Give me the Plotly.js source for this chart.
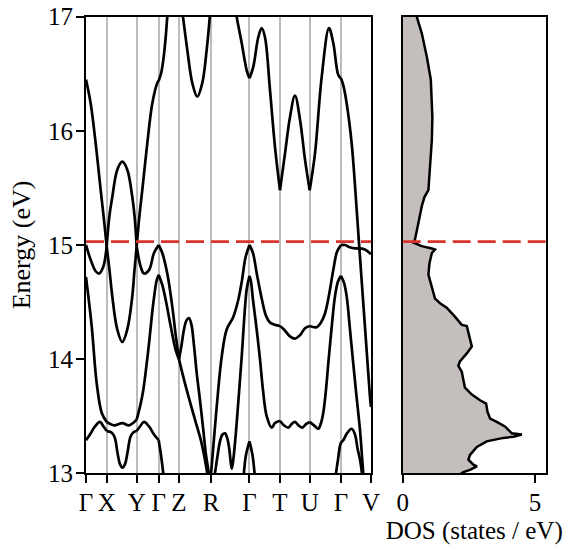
<!DOCTYPE html>
<html><head><meta charset="utf-8">
<script src="https://cdn.plot.ly/plotly-3.0.1.min.js"></script>
<style>html,body{margin:0;padding:0;background:#fff}#chart{width:574px;height:550px}</style>
</head><body><div id="chart"></div>
<script>
// High-symmetry path (k-distance along the path) and labels
const kLabels = ['Γ','X','Y','Γ','Z','R','Γ','T','U','Γ','V'];
const kPos = [0, 20.7, 50.7, 72.7, 93, 125, 163.5, 194, 223.7, 255, 285];
const fermiEnergy = 15.03;

// Bands (k-distance, energy in eV)
const bandTopLeftK = [0, 4.7, 9.7, 14.7, 18, 20.7, 23.5, 26.3, 31.3, 36.3, 41.3, 46.3, 48.5, 50.7, 53.5, 56.3, 61.3, 66.3, 71.3, 72.7, 75, 77.3, 79.7, 81.3, 82.5];
const bandTopLeftE = [16.45, 16.24, 15.89, 15.48, 15.22, 14.99, 15.26, 15.42, 15.66, 15.73, 15.66, 15.42, 15.26, 14.99, 15.26, 15.48, 15.89, 16.24, 16.42, 16.44, 16.50, 16.62, 16.82, 17.0, 17.12];

const bandTopZRK = [96.3, 101.3, 106.3, 111.3, 116.3, 120.7, 124.3];
const bandTopZRE = [17.05, 16.71, 16.42, 16.30, 16.42, 16.71, 17.05];

const bandTopRightK = [149.5, 150.7, 155.7, 160.7, 163.5, 167.3, 172.3, 175.7, 179, 184, 189, 194, 199, 204, 209, 214, 219, 223.7, 229, 235.7, 243, 247.3, 252.3, 255, 257.3, 260.7, 265.7, 270.7, 273, 276, 280, 284, 285];
const bandTopRightE = [17.08, 17.0, 16.77, 16.53, 16.46, 16.56, 16.82, 16.90, 16.82, 16.36, 15.86, 15.48, 15.80, 16.12, 16.31, 16.10, 15.75, 15.48, 15.80, 16.47, 16.90, 16.77, 16.49, 16.46, 16.40, 16.24, 15.89, 15.31, 15.02, 14.65, 14.16, 13.67, 13.58];

const bandFermiK = [0, 4.7, 9.7, 13, 17.3, 20.7, 23.5, 26.3, 31.3, 36.3, 41.3, 46.3, 48.5, 50.7, 54.7, 58, 63, 68, 72.7, 76.3, 81.3, 86.3, 90, 93, 96, 100.7, 109, 115.7, 120.7, 123];
const bandFermiE = [15.00, 14.87, 14.77, 14.75, 14.81, 14.99, 14.78, 14.55, 14.26, 14.15, 14.26, 14.55, 14.78, 14.99, 14.81, 14.75, 14.78, 14.93, 15.00, 14.93, 14.75, 14.46, 14.19, 14.00, 13.89, 13.73, 13.47, 13.26, 13.03, 12.86];

const bandMidLeftK = [0, 5.7, 10.7, 15.7, 20.7, 28, 36.3, 43, 50.7, 54.7, 57.3, 62.3, 67.3, 70.7, 72.7, 76.3, 79.7, 84.7, 89.7, 93, 95.5, 98, 100.5, 103, 105.5, 108, 110.7, 114, 117.3, 120, 122.3, 124];
const bandMidLeftE = [14.72, 14.29, 13.79, 13.53, 13.45, 13.42, 13.44, 13.42, 13.47, 13.61, 13.73, 14.08, 14.49, 14.69, 14.74, 14.65, 14.52, 14.29, 14.08, 14.00, 14.12, 14.26, 14.34, 14.36, 14.30, 14.12, 13.88, 13.64, 13.38, 13.16, 13.03, 12.90];

const bandMidRightK = [126, 128.5, 131, 134, 136.5, 139, 141.5, 143.5, 145.7, 147.3, 150.7, 155.7, 160.7, 163.5, 165, 167, 170.7, 174, 177, 180.7, 185.7, 189, 194, 198, 202.3, 205.5, 209, 212.5, 216.3, 220, 223.7, 228, 232.3, 235, 237.3, 240, 242.3, 245.5, 249, 252, 255, 258, 260.7, 264, 267.3, 270.7, 274, 277.3, 278.5];
const bandMidRightE = [12.90, 12.98, 13.12, 13.28, 13.34, 13.35, 13.30, 13.20, 13.04, 13.12, 13.44, 14.02, 14.61, 14.73, 14.68, 14.52, 14.26, 14.00, 13.73, 13.50, 13.40, 13.44, 13.46, 13.42, 13.40, 13.43, 13.45, 13.42, 13.40, 13.43, 13.45, 13.42, 13.39, 13.44, 13.53, 13.73, 13.96, 14.26, 14.55, 14.68, 14.73, 14.67, 14.55, 14.26, 13.96, 13.66, 13.38, 13.00, 12.90];

const bandRGammaK = [124.5, 125.7, 130.7, 135.7, 140.7, 147.3, 152.3, 156, 159.5, 163.5, 167, 171, 176, 180, 184, 189, 194, 198, 204, 209, 214, 219, 223.7, 230.7, 235, 239, 243, 247.3, 251, 255, 259, 264, 269, 274, 279, 285];
const bandRGammaE = [12.94, 13.06, 13.58, 14.02, 14.26, 14.37, 14.52, 14.69, 14.89, 15.00, 14.93, 14.74, 14.52, 14.38, 14.32, 14.30, 14.29, 14.26, 14.20, 14.18, 14.21, 14.27, 14.29, 14.28, 14.32, 14.40, 14.56, 14.78, 14.94, 15.00, 15.00, 14.98, 14.97, 14.97, 14.96, 14.92];

const bandLowLeftK = [0, 4, 9, 14, 17.5, 20.7, 25, 28.5, 31.5, 34, 36.5, 39, 41.5, 44.5, 47.5, 50.7, 54, 58, 63, 68, 72.7, 75, 77.3, 78.5];
const bandLowLeftE = [13.29, 13.34, 13.41, 13.45, 13.41, 13.37, 13.36, 13.32, 13.18, 13.08, 13.05, 13.08, 13.18, 13.32, 13.36, 13.37, 13.41, 13.45, 13.41, 13.34, 13.29, 13.16, 13.00, 12.90];

const bandGammaSmallK = [157.5, 160, 163.5, 166.5, 169];
const bandGammaSmallE = [12.96, 13.16, 13.28, 13.16, 12.96];

const bandLowRightK = [249.5, 252, 254, 255, 257.3, 261, 265.7, 269, 271.5, 274, 276, 277];
const bandLowRightE = [12.97, 13.12, 13.24, 13.27, 13.29, 13.35, 13.39, 13.34, 13.22, 13.12, 13.00, 12.92];

// Density of states (energy in eV, states / eV)
const dosEnergy = [17.1, 17.00, 16.855, 16.65, 16.45, 16.27, 16.12, 15.92, 15.69, 15.48, 15.42, 15.34, 15.19, 15.045, 15.02, 14.99, 14.97, 14.96, 14.93, 14.84, 14.74, 14.62, 14.53, 14.49, 14.45, 14.37, 14.30, 14.29, 14.18, 14.11, 14.05, 13.98, 13.94, 13.89, 13.75, 13.69, 13.64, 13.61, 13.54, 13.48, 13.45, 13.41, 13.35, 13.34, 13.32, 13.31, 13.28, 13.23, 13.16, 13.12, 13.075, 13.06, 13.03, 13.01, 12.98, 12.9];
const dosValue = [0.46, 0.53, 0.72, 0.91, 1.06, 1.10, 1.12, 1.10, 1.03, 0.97, 0.82, 0.72, 0.59, 0.46, 0.40, 0.72, 1.10, 1.22, 1.10, 1.01, 0.97, 1.10, 1.22, 1.41, 1.66, 1.98, 2.23, 2.42, 2.54, 2.61, 2.42, 2.16, 2.10, 2.23, 2.35, 2.61, 2.92, 3.15, 3.20, 3.30, 3.55, 3.86, 4.12, 4.50, 4.18, 3.80, 3.17, 2.80, 2.54, 2.48, 2.67, 2.80, 2.54, 2.29, 2.10, 2.0];

const bands = [
  [bandTopLeftK, bandTopLeftE], [bandTopZRK, bandTopZRE], [bandTopRightK, bandTopRightE],
  [bandFermiK, bandFermiE], [bandMidLeftK, bandMidLeftE], [bandMidRightK, bandMidRightE],
  [bandRGammaK, bandRGammaE], [bandLowLeftK, bandLowLeftE], [bandGammaSmallK, bandGammaSmallE],
  [bandLowRightK, bandLowRightE]
];

// split a band into pieces at the high-symmetry points (kinks)
function pieces(k, e) {
  const out = []; let cur = {x: [], y: []};
  for (let i = 0; i < k.length; i++) {
    cur.x.push(k[i]); cur.y.push(e[i]);
    if (i > 0 && i < k.length - 1 && kPos.includes(k[i])) {
      out.push(cur); cur = {x: [k[i]], y: [e[i]]};
    }
  }
  out.push(cur); return out;
}

const traces = [];
bands.forEach(([k, e]) => {
  pieces(k, e).forEach(p => traces.push({
    type: 'scatter', mode: 'lines', x: p.x, y: p.y, xaxis: 'x', yaxis: 'y',
    line: {color: '#000000', width: 2.7, shape: 'spline', smoothing: 1},
    hoverinfo: 'skip', showlegend: false
  }));
});

traces.push({
  type: 'scatter', mode: 'lines', x: dosValue, y: dosEnergy, xaxis: 'x2', yaxis: 'y2',
  fill: 'tozerox', fillcolor: '#c4bfbd', line: {color: '#000000', width: 2.5},
  hoverinfo: 'skip', showlegend: false
});

const ef = {color: '#d9342b', width: 2.7, dash: '18px,7px'};
traces.push({type: 'scatter', mode: 'lines', x: [kPos[0], kPos[kPos.length - 1]], y: [fermiEnergy, fermiEnergy], xaxis: 'x', yaxis: 'y', line: ef, hoverinfo: 'skip', showlegend: false});
traces.push({type: 'scatter', mode: 'lines', x: [0, 5.4], y: [fermiEnergy, fermiEnergy], xaxis: 'x2', yaxis: 'y2', line: ef, hoverinfo: 'skip', showlegend: false});

const fontFam = 'Liberation Serif, Times New Roman, serif';
const yDom = [0.1395, 0.9696];
const layout = {
  width: 574, height: 550,
  margin: {l: 0, r: 0, t: 0, b: 0},
  paper_bgcolor: '#ffffff', plot_bgcolor: '#ffffff',
  font: {family: fontFam, size: 25, color: '#000000'},
  showlegend: false,
  xaxis: {
    domain: [0.1498, 0.6463], range: [0, 285], anchor: 'y',
    tickmode: 'array', tickvals: kPos, ticktext: kLabels, tickangle: 0,
    ticks: 'outside', ticklen: 8, tickwidth: 2, tickcolor: '#000',
    showline: true, mirror: true, linewidth: 2, linecolor: '#000',
    showgrid: true, gridcolor: '#bfbbb8', gridwidth: 2, zeroline: false,
    tickfont: {size: 25}, ticklabelstandoff: -2
  },
  yaxis: {
    domain: yDom, range: [13, 17], anchor: 'x',
    tickmode: 'array', tickvals: [13, 14, 15, 16, 17],
    ticks: 'outside', ticklen: 8, tickwidth: 2, tickcolor: '#000',
    showline: true, mirror: true, linewidth: 2, linecolor: '#000',
    showgrid: false, zeroline: false, ticklabelstandoff: -2,
    title: {text: 'Energy (eV)', font: {size: 26}, standoff: 10},
    tickfont: {size: 25}
  },
  xaxis2: {
    domain: [0.7016, 0.9507], range: [0, 5.4], anchor: 'y2',
    tickmode: 'array', tickvals: [0, 5],
    ticks: 'outside', ticklen: 8, tickwidth: 2, tickcolor: '#000',
    showline: true, mirror: true, linewidth: 2, linecolor: '#000',
    showgrid: false, zeroline: false, ticklabelstandoff: -2,
    title: {text: 'DOS (states / eV)', font: {size: 25}, standoff: 6},
    tickfont: {size: 25}
  },
  yaxis2: {
    domain: yDom, range: [13, 17], anchor: 'x2',
    showticklabels: false, ticks: '',
    showline: true, mirror: true, linewidth: 2, linecolor: '#000',
    showgrid: false, zeroline: false
  }
};

Plotly.newPlot('chart', traces, layout, {displayModeBar: false, staticPlot: true});
</script>
</body></html>
